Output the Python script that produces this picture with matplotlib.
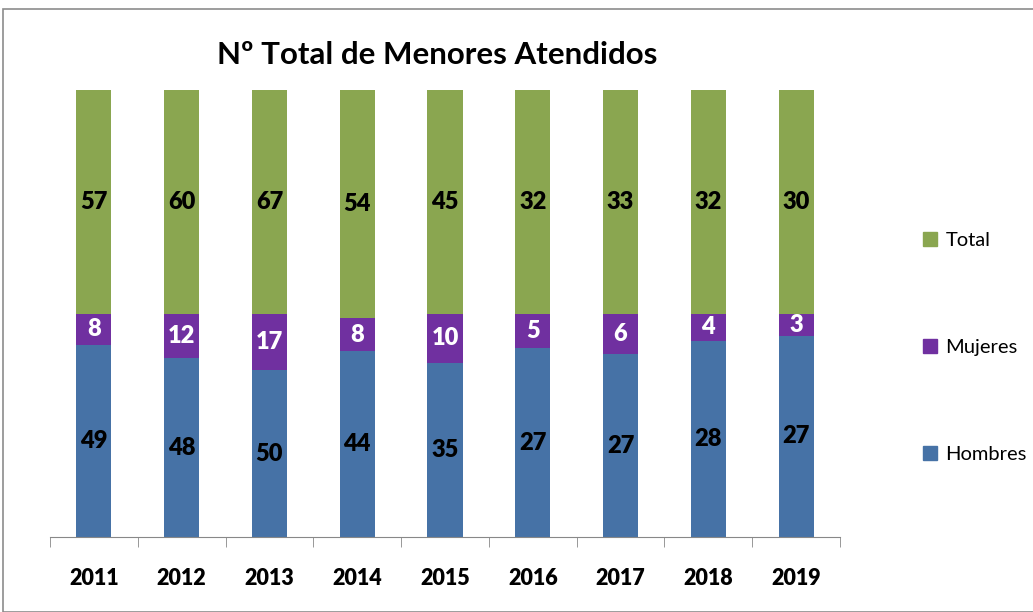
import numpy as np
import matplotlib.pyplot as plt
from matplotlib.patches import Rectangle, Patch

# Menores atendidos por año
years = ["2011", "2012", "2013", "2014", "2015", "2016", "2017", "2018", "2019"]
hombres = [49, 48, 50, 44, 35, 27, 27, 28, 27]
mujeres = [8, 12, 17, 8, 10, 5, 6, 4, 3]
total = [57, 60, 67, 54, 45, 32, 33, 32, 30]

c_hombres = "#4672A6"
c_mujeres = "#7030A0"
c_total = "#8AA650"

plt.rcParams["font.family"] = ["Lato", "DejaVu Sans"]

fig = plt.figure(figsize=(10.33, 6.12), dpi=100)
W, H = 1033, 612
ax = fig.add_axes([50 / W, 1 - 537 / H, 790 / W, 447 / H])

# barras apiladas al 100 %
h = np.array(hombres, float)
m = np.array(mujeres, float)
t = np.array(total, float)
s = h + m + t
ph, pm, pt = h / s * 100, m / s * 100, t / s * 100
x = np.arange(len(years))
w = 0.40
ax.bar(x, ph, w, color=c_hombres)
ax.bar(x, pm, w, bottom=ph, color=c_mujeres)
ax.bar(x, pt, w, bottom=ph + pm, color=c_total)

for i in range(len(years)):
    ax.text(x[i], ph[i] / 2, str(hombres[i]), ha="center", va="center",
            fontsize=17, fontweight="heavy", color="black")
    ax.text(x[i], ph[i] + pm[i] / 2, str(mujeres[i]), ha="center", va="center",
            fontsize=17, fontweight="heavy", color="white")
    ax.text(x[i], ph[i] + pm[i] + pt[i] / 2, str(total[i]), ha="center", va="center",
            fontsize=17, fontweight="heavy", color="black")

ax.set_xlim(-0.5, len(years) - 0.5)
ax.set_ylim(0, 100)
ax.set_yticks([])
for sp in ["left", "right", "top"]:
    ax.spines[sp].set_visible(False)
ax.spines["bottom"].set_color("#888888")
ax.set_xticks(x)
ax.set_xticklabels(years, fontsize=15.5, fontweight="heavy")
ax.tick_params(axis="x", which="major", length=0, pad=22)
ax.set_xticks(np.arange(-0.5, len(years)), minor=True)
ax.tick_params(axis="x", which="minor", length=7, color="#888888")

fig.text(437 / W, 1 - 55 / H, "Nº Total de Menores Atendidos",
         ha="center", va="center", fontsize=22.5, fontweight="bold")

handles = [Patch(color=c_total), Patch(color=c_mujeres), Patch(color=c_hombres)]
fig.legend(handles, ["Total", "Mujeres", "Hombres"], loc="upper left",
           bbox_to_anchor=(905 / W, 1 - 214 / H), frameon=False, fontsize=14.5,
           handlelength=0.7, handleheight=0.7, handletextpad=0.4,
           labelspacing=4.45)

# marco del gráfico
fig.add_artist(Rectangle((3 / W, 0), 1.05, 1 - 9 / H, transform=fig.transFigure,
                         fill=False, edgecolor="#8c8c8c", lw=1.2))

fig.savefig("out.png", dpi=100)
